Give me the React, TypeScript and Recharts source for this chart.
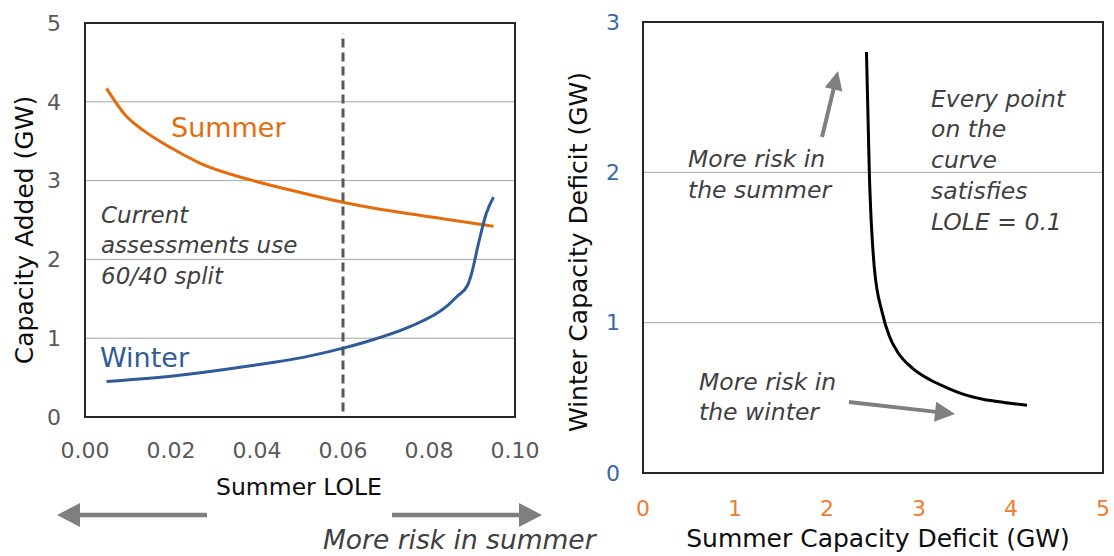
import React from 'react';
import {
  LineChart,
  Line,
  XAxis,
  YAxis,
  CartesianGrid,
  ReferenceLine,
  ReferenceArea,
} from 'recharts';

const FONT = '"DejaVu Sans", "Open Sans", sans-serif';

// Left chart: capacity added vs summer LOLE
const summerLole = [0.005, 0.0094, 0.0135, 0.0202, 0.0268, 0.0384, 0.0508, 0.0605, 0.0716, 0.084, 0.095];
const summerCap = [4.17, 3.83, 3.64, 3.41, 3.22, 3.01, 2.84, 2.72, 2.61, 2.51, 2.42];
const winterLole = [0.005, 0.022, 0.0385, 0.051, 0.0605, 0.0675, 0.0757, 0.084, 0.0865, 0.089, 0.0899, 0.0915, 0.0933, 0.095];
const winterCap = [0.45, 0.53, 0.65, 0.76, 0.88, 0.99, 1.15, 1.4, 1.53, 1.675, 1.82, 2.2, 2.58, 2.79];
const leftXTicks = [0, 0.02, 0.04, 0.06, 0.08, 0.1];
const leftYTicks = [0, 1, 2, 3, 4, 5];
const currentSplit = 0.06;

// Right chart: winter deficit vs summer deficit (LOLE = 0.1 curve)
const deficitSummer = [2.429, 2.46, 2.513, 2.601, 2.678, 2.774, 2.927, 3.12, 3.311, 3.503, 3.695, 3.925, 4.174];
const deficitWinter = [2.8, 2.0, 1.375, 1.065, 0.909, 0.798, 0.698, 0.62, 0.565, 0.52, 0.491, 0.469, 0.451];
const rightXTicks = [0, 1, 2, 3, 4, 5];
const rightYTicks = [0, 1, 2, 3];

const summerData = summerLole.map((x, i) => ({ x, y: summerCap[i] }));
const winterData = winterLole.map((x, i) => ({ x, y: winterCap[i] }));
const deficitData = deficitSummer.map((x, i) => ({ x, y: deficitWinter[i] }));

const ORANGE = '#E46C0A';
const BLUE = '#2F5C98';
const GRID = '#A6A6A6';
const FRAME = '#262626';
const TICK = '#595959';
const NOTE = '#404040';
const ARROW = '#7F7F7F';

function Arrow({ x1, y1, x2, y2, head, hw, w }: { x1: number; y1: number; x2: number; y2: number; head: number; hw: number; w: number }) {
  const dx = x2 - x1;
  const dy = y2 - y1;
  const len = Math.sqrt(dx * dx + dy * dy);
  const ux = dx / len;
  const uy = dy / len;
  const bx = x2 - ux * head;
  const by = y2 - uy * head;
  const px = -uy;
  const py = ux;
  return (
    <g>
      <line x1={x1} y1={y1} x2={bx + ux} y2={by + uy} stroke={ARROW} strokeWidth={w} />
      <polygon
        points={`${x2},${y2} ${bx + px * hw},${by + py * hw} ${bx - px * hw},${by - py * hw}`}
        fill={ARROW}
      />
    </g>
  );
}

export default function App() {
  const tickStyle = { fill: TICK, fontSize: 22, fontFamily: FONT };
  return (
    <div style={{ position: 'absolute', left: 0, top: 0, width: 1114, height: 556, background: '#fff', overflow: 'hidden' }}>
      <div style={{ position: 'absolute', left: 0, top: 0 }}>
        <LineChart width={560} height={556} margin={{ top: 23, right: 45, left: 0, bottom: 0 }}>
          <CartesianGrid horizontal vertical={false} stroke={GRID} strokeWidth={1} />
          <XAxis
            type="number"
            dataKey="x"
            domain={[0, 0.1]}
            ticks={leftXTicks}
            interval={0}
            tickFormatter={(v: number) => v.toFixed(2)}
            axisLine={false}
            tickLine={false}
            tickSize={0}
            tickMargin={25}
            height={139}
            tick={tickStyle}
          />
          <YAxis
            type="number"
            domain={[0, 5]}
            ticks={leftYTicks}
            interval={0}
            axisLine={false}
            tickLine={false}
            tickSize={0}
            tickMargin={24}
            width={85}
            tick={tickStyle}
          />
          <ReferenceArea x1={0} x2={0.1} y1={0} y2={5} fill="none" stroke={FRAME} strokeWidth={2} ifOverflow="visible" />
          <ReferenceLine
            segment={[{ x: currentSplit, y: 0.07 }, { x: currentSplit, y: 4.87 }]}
            stroke="#595959"
            strokeWidth={3}
            strokeDasharray="9 5"
          />
          <Line data={summerData} dataKey="y" type="monotone" stroke={ORANGE} strokeWidth={3} dot={false} isAnimationActive={false} />
          <Line data={winterData} dataKey="y" type="monotone" stroke={BLUE} strokeWidth={3} dot={false} isAnimationActive={false} />
        </LineChart>
      </div>
      <div style={{ position: 'absolute', left: 560, top: 0 }}>
        <LineChart width={554} height={556} margin={{ top: 22, right: 11, left: 0, bottom: 0 }}>
          <CartesianGrid horizontal vertical={false} stroke={GRID} strokeWidth={1} />
          <XAxis
            type="number"
            dataKey="x"
            domain={[0, 5]}
            ticks={rightXTicks}
            interval={0}
            axisLine={false}
            tickLine={false}
            tickSize={0}
            tickMargin={27}
            height={83}
            tick={{ ...tickStyle, fill: '#ED7D31' }}
          />
          <YAxis
            type="number"
            domain={[0, 3]}
            ticks={rightYTicks}
            interval={0}
            axisLine={false}
            tickLine={false}
            tickSize={0}
            tickMargin={23}
            width={83}
            tick={{ ...tickStyle, fill: '#3A67A8' }}
          />
          <ReferenceArea x1={0} x2={5} y1={0} y2={3} fill="none" stroke={FRAME} strokeWidth={2} ifOverflow="visible" />
          <Line data={deficitData} dataKey="y" type="monotone" stroke="#000000" strokeWidth={3} dot={false} isAnimationActive={false} />
        </LineChart>
      </div>
      <svg width={1114} height={556} style={{ position: 'absolute', left: 0, top: 0, pointerEvents: 'none' }} fontFamily={FONT}>
        {/* left chart texts */}
        <text x={171} y={137} fontSize={27} fill={ORANGE}>Summer</text>
        <text x={100} y={367} fontSize={27} fill={BLUE}>Winter</text>
        <g fontSize={23} fontStyle="italic" fill={NOTE}>
          <text x={101} y={223}>Current</text>
          <text x={101} y={253}>assessments use</text>
          <text x={101} y={284}>60/40 split</text>
        </g>
        <text x={299} y={495} fontSize={23.5} textAnchor="middle" fill="#0D0D0D">Summer LOLE</text>
        <text
          x={24}
          y={230}
          fontSize={25}
          textAnchor="middle"
          dominantBaseline="central"
          fill="#0D0D0D"
          transform="rotate(-90 24 230)"
        >
          Capacity Added (GW)
        </text>
        <Arrow x1={207} y1={515} x2={57} y2={515} head={23} hw={12} w={4.5} />
        <Arrow x1={392} y1={515} x2={542} y2={515} head={23} hw={12} w={4.5} />
        <text x={323} y={549} fontSize={26.5} fontStyle="italic" fill={NOTE}>More risk in summer</text>

        {/* right chart texts */}
        <g fontSize={23.5} fontStyle="italic" fill={NOTE}>
          <text x={688} y={167}>More risk in</text>
          <text x={688} y={198}>the summer</text>
          <text x={931} y={107}>Every point</text>
          <text x={931} y={137}>on the</text>
          <text x={931} y={168}>curve</text>
          <text x={931} y={199}>satisfies</text>
          <text x={931} y={230}>LOLE = 0.1</text>
          <text x={699} y={390}>More risk in</text>
          <text x={699} y={420}>the winter</text>
        </g>
        <Arrow x1={822} y1={137} x2={838} y2={71} head={19} hw={9} w={4} />
        <Arrow x1={849} y1={402} x2={955} y2={414} head={20} hw={10} w={4} />
        <text x={878} y={547} fontSize={25} textAnchor="middle" fill="#0D0D0D">Summer Capacity Deficit (GW)</text>
        <text
          x={578}
          y={252}
          fontSize={25}
          textAnchor="middle"
          dominantBaseline="central"
          fill="#0D0D0D"
          transform="rotate(-90 578 252)"
        >
          Winter Capacity Deficit (GW)
        </text>
      </svg>
    </div>
  );
}
